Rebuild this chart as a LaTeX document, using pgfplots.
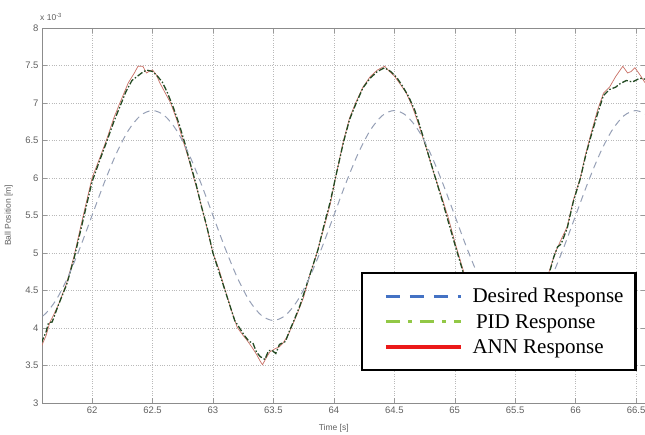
\documentclass[border=0pt]{standalone}
\usepackage{fontspec}
\setmainfont{Liberation Sans}
\newfontfamily\legfont{Liberation Serif}
\usepackage{pgfplots}
\pgfplotsset{compat=1.18}

\definecolor{desgray}{RGB}{150,160,182}
\definecolor{piddark}{RGB}{35,75,35}
\definecolor{annred}{RGB}{200,110,100}
\definecolor{legblue}{RGB}{68,114,196}
\definecolor{leggreen}{RGB}{146,200,70}
\definecolor{legred}{RGB}{235,25,25}
\definecolor{tickgray}{RGB}{95,95,95}

\begin{document}
\begin{tikzpicture}
\begin{axis}[
  name=ax,
  scale only axis,
  width=604pt, height=375pt,
  xmin=61.586, xmax=66.582,
  ymin=3, ymax=8,
  xtick={62,62.5,...,66.5},
  ytick={3,3.5,...,8},
  /pgf/number format/assume math mode=true,
  tick label style={font=\fontsize{9.5}{10}\selectfont, text=tickgray},
  xlabel={Time [s]},
  ylabel={Ball Position [m]},
  label style={font=\fontsize{8.5}{9}\selectfont, text=tickgray},
  xlabel style={at={(axis description cs:0.483,-0.067)}, anchor=center},
  ylabel style={at={(axis description cs:-0.055,0.5)}, anchor=center},
  axis line style={draw=gray!90},
  tick style={draw=gray!80, thin},
  tick align=inside,
  major tick length=5pt,
  grid=major,
  grid style={dotted, gray!55, thin},
  legend image code/.code={\path (0pt,0pt); \draw[#1] (12pt,0pt) -- (87pt,0pt);},
  legend cell align=left,
  legend style={
    at={(rel axis cs:0.528,0.349)}, anchor=north west,
    draw=black, line width=2.2pt, fill=white,
    font=\legfont\fontsize{21}{22}\selectfont,
    inner xsep=10pt, inner ysep=13pt,
    row sep=6pt,
    /tikz/every odd column/.append style={column sep=8pt},
  },
]
% ANN response
\addplot[annred, line width=0.7pt, forget plot] coordinates {
(61.58,3.75) (61.62,3.90) (61.65,4.07) (61.72,4.30) (61.79,4.60) (61.85,4.95)
(61.92,5.45) (62.00,6.00) (62.06,6.25) (62.12,6.51) (62.18,6.80) (62.23,7.00)
(62.30,7.27) (62.35,7.40) (62.38,7.49) (62.42,7.49) (62.45,7.40) (62.48,7.43)
(62.50,7.44) (62.53,7.38) (62.56,7.27) (62.60,7.15) (62.65,7.00) (62.70,6.78)
(62.75,6.51) (62.80,6.25) (62.84,6.01) (62.88,5.78) (62.92,5.53) (62.96,5.27)
(63.00,5.00) (63.05,4.78) (63.10,4.51) (63.15,4.25) (63.20,4.01) (63.25,3.90)
(63.28,3.84) (63.32,3.75) (63.36,3.65) (63.39,3.56) (63.41,3.51) (63.44,3.60)
(63.47,3.68) (63.51,3.72) (63.55,3.75) (63.58,3.80) (63.62,3.90) (63.65,4.01)
(63.70,4.20) (63.75,4.41) (63.80,4.70) (63.86,5.00) (63.92,5.35) (63.97,5.65)
(64.02,6.05) (64.08,6.50) (64.13,6.80) (64.18,7.00) (64.24,7.21) (64.30,7.35)
(64.36,7.44) (64.42,7.49) (64.46,7.42) (64.50,7.36) (64.55,7.25) (64.60,7.13)
(64.65,6.95) (64.70,6.72) (64.77,6.37) (64.83,6.05) (64.90,5.71) (64.95,5.45)
(65.00,5.15) (65.07,4.77) (65.12,4.50) (65.18,4.20) (65.24,3.95) (65.30,3.80)
(65.36,3.65) (65.42,3.55) (65.48,3.68) (65.55,3.80) (65.62,4.05) (65.70,4.40)
(65.78,4.75) (65.83,5.00) (65.88,5.18) (65.93,5.35) (65.98,5.70) (66.04,6.01)
(66.08,6.30) (66.12,6.55) (66.18,6.90) (66.23,7.13) (66.28,7.21) (66.33,7.35)
(66.39,7.49) (66.43,7.40) (66.46,7.42) (66.49,7.47) (66.53,7.38) (66.57,7.28)
(66.60,7.22)
};
% PID response
\addplot[piddark, line width=1.3pt, dash pattern=on 6pt off 2pt on 1.5pt off 2pt, forget plot] coordinates {
(61.58,3.80) (61.62,3.95) (61.64,4.07) (61.67,4.08) (61.72,4.30) (61.79,4.58)
(61.85,4.92) (61.92,5.40) (62.00,5.95) (62.06,6.22) (62.12,6.48) (62.18,6.75)
(62.23,6.95) (62.28,7.15) (62.33,7.30) (62.37,7.35) (62.41,7.40) (62.45,7.44)
(62.50,7.42) (62.54,7.36) (62.58,7.28) (62.62,7.15) (62.67,6.95) (62.72,6.72)
(62.77,6.45) (62.82,6.15) (62.86,5.92) (62.90,5.65) (62.95,5.35) (63.00,5.00)
(63.05,4.75) (63.10,4.50) (63.14,4.30) (63.18,4.10) (63.22,4.00) (63.26,3.90)
(63.30,3.82) (63.33,3.80) (63.36,3.68) (63.39,3.62) (63.43,3.58) (63.46,3.70)
(63.49,3.70) (63.52,3.66) (63.55,3.78) (63.60,3.82) (63.63,3.95) (63.67,4.10)
(63.72,4.30) (63.77,4.55) (63.82,4.80) (63.87,5.05) (63.92,5.38) (63.97,5.68)
(64.02,6.05) (64.08,6.48) (64.13,6.78) (64.18,6.98) (64.24,7.20) (64.30,7.33)
(64.36,7.42) (64.42,7.47) (64.47,7.42) (64.52,7.34) (64.57,7.22) (64.62,7.08)
(64.67,6.90) (64.72,6.65) (64.78,6.32) (64.84,6.00) (64.90,5.68) (64.95,5.40)
(65.00,5.12) (65.07,4.74) (65.12,4.48) (65.18,4.20) (65.24,3.97) (65.30,3.82)
(65.36,3.68) (65.42,3.60) (65.48,3.70) (65.55,3.82) (65.62,4.05) (65.70,4.38)
(65.78,4.72) (65.82,4.95) (65.85,5.08) (65.88,5.12) (65.93,5.33) (65.98,5.68)
(66.04,6.00) (66.08,6.28) (66.12,6.52) (66.18,6.85) (66.23,7.10) (66.28,7.18)
(66.33,7.21) (66.37,7.26) (66.42,7.30) (66.47,7.28) (66.53,7.33) (66.57,7.32)
(66.60,7.30)
};
% Desired response
\addplot[desgray, line width=1pt, dash pattern=on 7pt off 5pt, smooth, forget plot] coordinates {
(61.5,4.100) (61.6,4.169) (61.7,4.367) (61.8,4.677) (61.9,5.067) (62.0,5.500)
(62.1,5.933) (62.2,6.323) (62.3,6.633) (62.4,6.831) (62.5,6.900) (62.6,6.831)
(62.7,6.633) (62.8,6.323) (62.9,5.933) (63.0,5.500) (63.1,5.067) (63.2,4.677)
(63.3,4.367) (63.4,4.169) (63.5,4.100) (63.6,4.169) (63.7,4.367) (63.8,4.677)
(63.9,5.067) (64.0,5.500) (64.1,5.933) (64.2,6.323) (64.3,6.633) (64.4,6.831)
(64.5,6.900) (64.6,6.831) (64.7,6.633) (64.8,6.323) (64.9,5.933) (65.0,5.500)
(65.1,5.067) (65.2,4.677) (65.3,4.367) (65.4,4.169) (65.5,4.100) (65.6,4.169)
(65.7,4.367) (65.8,4.677) (65.9,5.067) (66.0,5.500) (66.1,5.933) (66.2,6.323)
(66.3,6.633) (66.4,6.831) (66.5,6.900) (66.6,6.831)
};
\addlegendimage{legblue, line width=3pt, dash pattern=on 14pt off 10pt}
\addlegendentry{Desired Response}
\addlegendimage{leggreen, line width=3pt, dash pattern=on 14pt off 8pt on 4pt off 8pt}
\addlegendentry{\,PID Response}
\addlegendimage{legred, line width=3.5pt}
\addlegendentry{ANN Response}
\end{axis}
\node[anchor=south west, inner sep=0pt, font=\fontsize{8.5}{9}\selectfont, text=tickgray]
  at ([shift={(-2pt,7pt)}]ax.north west) {x 10\textsuperscript{-3}};
\pgfresetboundingbox
\path ([shift={(-42pt,-32pt)}]ax.south west) rectangle ([shift={(-1pt,28pt)}]ax.north east);
\end{tikzpicture}
\end{document}
